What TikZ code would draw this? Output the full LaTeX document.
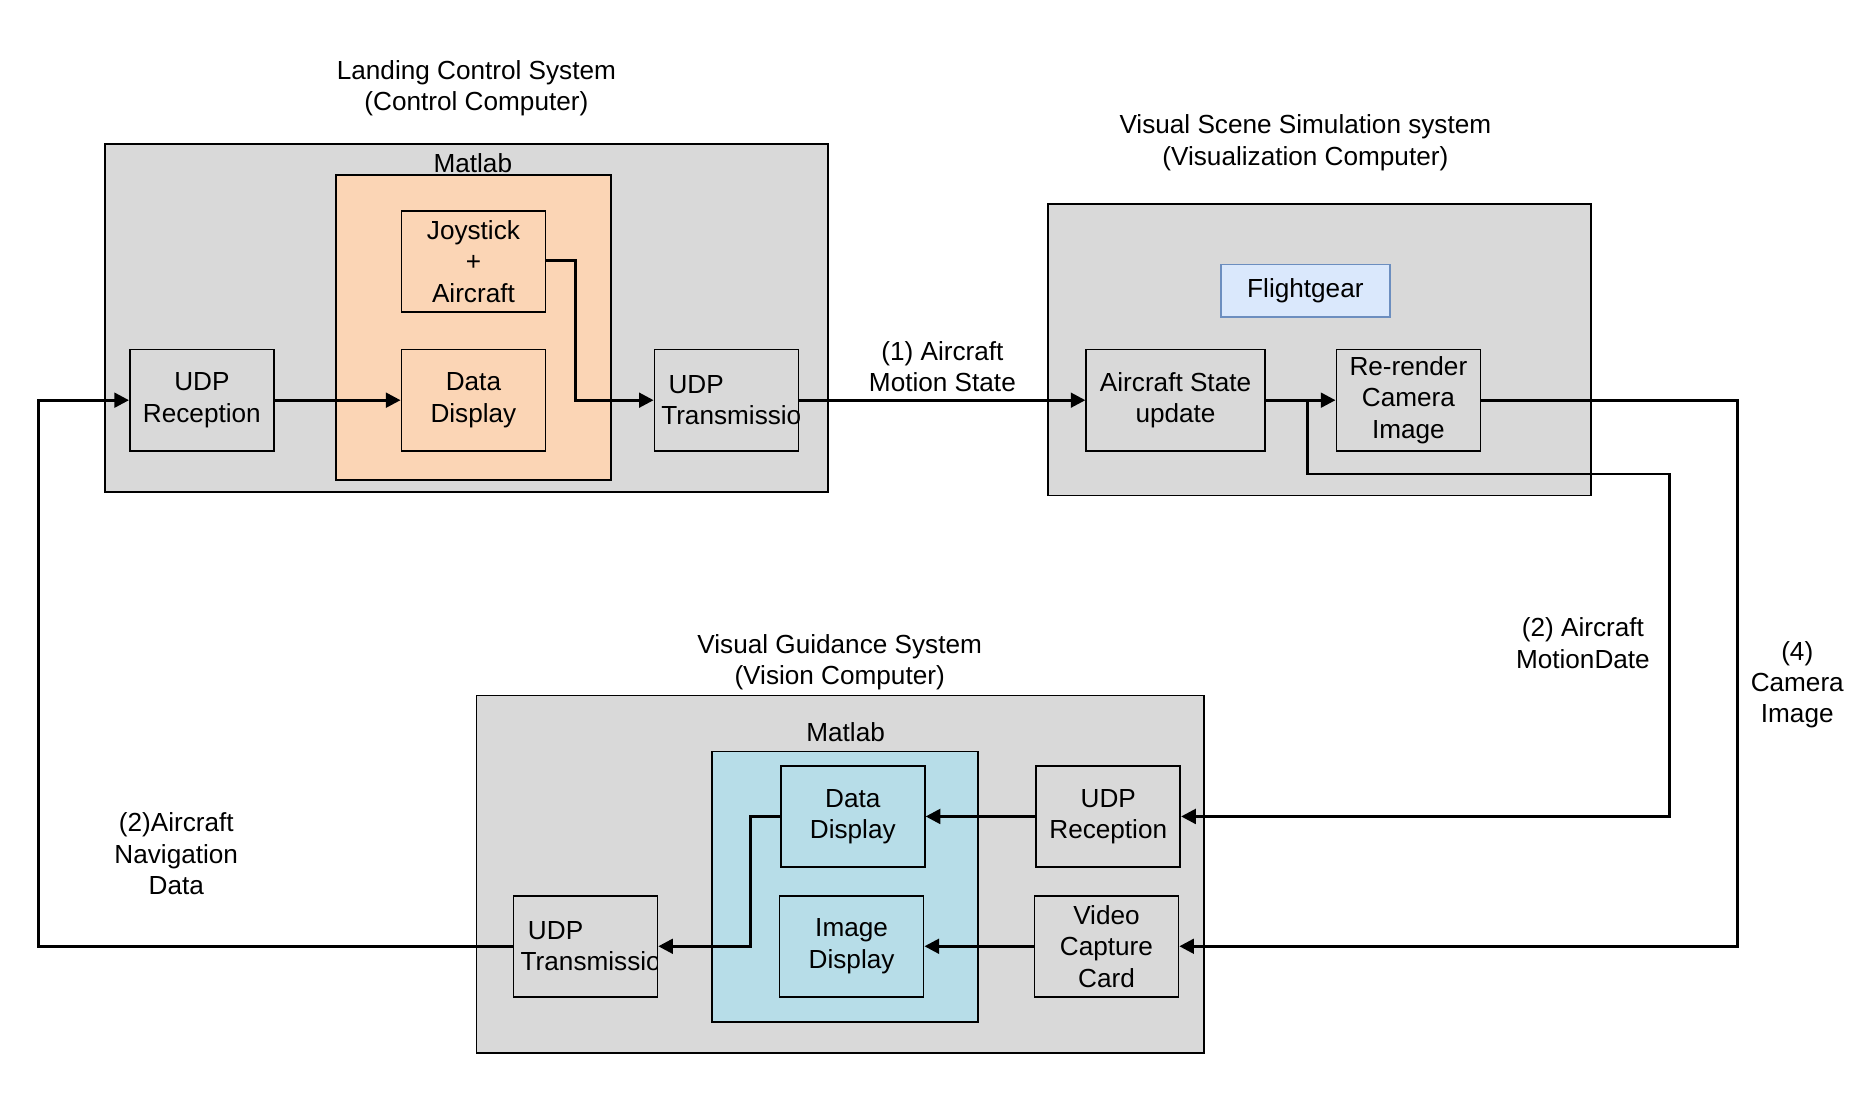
\documentclass[tikz,border=0pt]{standalone}
\usepackage{fontspec}
\setmainfont{Liberation Sans}
\usetikzlibrary{arrows.meta}
\definecolor{panel}{HTML}{D9D9D9}
\definecolor{orangefill}{HTML}{FBD5B5}
\definecolor{bluefill}{HTML}{B7DDE8}
\definecolor{fgfill}{HTML}{DAE8FC}
\definecolor{fgline}{HTML}{6C8EBF}
\tikzset{
  blk/.style={draw, line width=0.8pt, minimum width=2.42cm, minimum height=1.7cm, inner sep=0pt, align=center, font=\fontsize{12.5}{15}\selectfont},
  lbl/.style={align=center, font=\fontsize{12.5}{15}\selectfont},
  flow/.style={line width=1.4pt, -{Triangle[length=7pt,width=7pt]}},
}
\begin{document}
\begin{tikzpicture}[x=0.02cm, y=-0.02cm]
    \useasboundingbox (0,0) rectangle (1560,930);

    % Landing control system
    \draw[fill=panel, line width=0.8pt] (88,121) rectangle (695,413);
    \draw[fill=orangefill, line width=0.8pt] (282,147) rectangle (513,403);
    \node[lbl] (lcs) at (400,74) {Landing Control System\\(Control Computer)};
    \node[lbl] (ml1) at (397,137) {Matlab};
    \node[blk] (joy) at (397.5,219.5) {Joystick\\+\\Aircraft};
    \node[blk] (dd1) at (397.5,336) {Data\\Display};
    \node[blk] (rx1) at (169.5,336) {UDP\\Reception};
    \node[blk] (tx1) at (610,336) {};
    \begin{scope}
      \clip (549,294) rectangle (671,378);
      \node[lbl, anchor=west, align=left] at (549,336) {\ UDP\\Transmission};
    \end{scope}

    % Visual scene simulation
    \draw[fill=panel, line width=0.8pt] (880,171) rectangle (1336,416);
    \node[lbl] (vss) at (1096,120) {Visual Scene Simulation system\\(Visualization Computer)};
    \node[blk, fill=fgfill, draw=fgline, minimum width=2.84cm, minimum height=0.88cm] (fg) at (1096,244) {Flightgear};
    \node[blk, minimum width=3cm] (asu) at (987,336) {Aircraft State\\update};
    \node[blk] (rr) at (1182.5,336) {Re-render\\Camera\\Image};

    % Visual guidance system
    \draw[fill=panel, line width=0.8pt] (400,584) rectangle (1011,884);
    \draw[fill=bluefill, line width=0.8pt] (598,631) rectangle (821,858);
    \node[lbl] (vgs) at (705,556) {Visual Guidance System\\(Vision Computer)};
    \node[lbl] (ml2) at (710,615) {Matlab};
    \node[blk] (dd2) at (716,685.5) {Data\\Display};
    \node[blk] (id2) at (715,794.5) {Image\\Display};
    \node[blk] (rx2) at (930.5,685.5) {UDP\\Reception};
    \node[blk] (vc2) at (929,794.5) {Video\\Capture\\Card};
    \node[blk] (tx2) at (491.5,794.5) {};
    \begin{scope}
      \clip (431,752) rectangle (552,837);
      \node[lbl, anchor=west, align=left] at (431,794.5) {\ UDP\\Transmission};
    \end{scope}

    % connectors
    \coordinate (j1) at (483,219);
    \coordinate (j2) at (483,336);
    \coordinate (s1) at (1098,336);
    \coordinate (s2) at (1098,398);
    \coordinate (s3) at (1402,398);
    \coordinate (s4) at (1402,685.5);
    \coordinate (c1) at (1459,336);
    \coordinate (c2) at (1459,794.5);
    \coordinate (d1) at (630,685.5);
    \coordinate (d2) at (630,794.5);
    \coordinate (n1) at (32,794.5);
    \coordinate (n2) at (32,336);

    \draw[flow] (rx1) -- (dd1);
    \draw[flow] (joy.east |- j1) -- (j1) -- (j2) -- (tx1);
    \draw[flow] (tx1) -- node[lbl, above] {(1) Aircraft\\Motion State} (asu);
    \draw[flow] (asu) -- (rr);
    \draw[flow] (s1) -- (s2) -- (s3) -- (s4) -- (rx2);
    \draw[flow] (rr) -- (c1) -- (c2) -- (vc2);
    \draw[flow] (rx2) -- (dd2);
    \draw[flow] (vc2) -- (id2);
    \draw[flow] (dd2) -- (d1) -- (d2) -- (tx2);
    \draw[flow] (tx2) -- (n1) -- (n2) -- (rx1);

    \node[lbl] (l2) at (1329,540) {(2) Aircraft\\MotionDate};
    \node[lbl] (l4) at (1509,575) {(4)\\Camera\\Image};
    \node[lbl] (l3) at (148,717) {(2)Aircraft\\Navigation\\Data};

\end{tikzpicture}
\end{document}
